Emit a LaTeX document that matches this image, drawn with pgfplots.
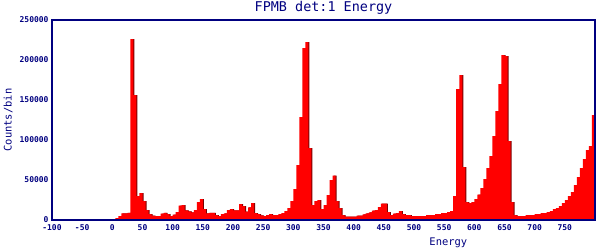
\documentclass[border=0pt]{standalone}
\usepackage{fontspec}
\setmainfont{DejaVu Sans Mono}
\usepackage{pgfplots}
\usepackage{pgfplotstable}
\pgfplotsset{compat=1.18}
\usetikzlibrary{calc}
\definecolor{axblue}{RGB}{0,0,128}
\definecolor{shadow}{RGB}{120,0,0}
\pgfplotstableread{
E v
-100 0
0 1000
5 2500
10 5000
15 8300
20 8300
25 9000
30 226000
35 156000
40 30000
45 33500
50 23500
55 12500
60 7500
65 5400
70 5000
75 5000
80 7900
85 9000
90 7500
95 5000
100 6700
105 10000
110 17900
115 18700
120 12000
125 10800
130 9600
135 12500
140 22500
145 26000
150 13700
155 8300
160 9000
165 9000
170 6250
175 5000
180 7500
185 8300
190 12500
195 13750
200 12000
205 12000
210 20000
215 17500
220 10400
225 15800
230 21250
235 8750
240 7500
245 5800
250 5000
255 6250
260 7500
265 6250
270 6250
275 7500
280 8750
285 11250
290 15000
295 23750
300 38750
305 68750
310 128750
315 215000
320 222500
325 90000
330 18750
335 23750
340 25000
345 13750
350 18750
355 31250
360 50000
365 55400
370 23750
375 15000
380 6250
385 4200
390 4200
395 4200
400 4200
405 5400
410 5400
415 7100
420 8300
425 9600
430 11700
435 12500
440 16250
445 20400
450 20400
455 10000
460 6250
465 7900
470 8750
475 11250
480 7500
485 6250
490 6250
495 5000
500 5000
505 5000
510 5000
515 5000
520 6250
525 6250
530 6250
535 7500
540 7500
545 8750
550 8750
555 10000
560 11250
565 30000
570 163750
575 181250
580 66250
585 22500
590 21250
595 22500
600 26250
605 31700
610 40000
615 51250
620 65000
625 80000
630 105000
635 136250
640 170000
645 206250
650 205000
655 98750
660 22500
665 6250
670 5000
675 5000
680 5000
685 6250
690 6250
695 6250
700 7500
705 7500
710 8750
715 8750
720 10000
725 11250
730 13750
735 15000
740 17500
745 21250
750 25000
755 30000
760 35000
765 43750
770 53750
775 65000
780 76250
785 87500
790 92500
795 131250
800 131250
}\hist
\begin{document}
\begin{tikzpicture}
\begin{axis}[
  scale only axis, width=543bp, height=200bp,
  xmin=-100, xmax=800, ymin=0, ymax=250000,
  axis line style={axblue, line width=1.2bp},
  xtick={-100,-50,...,750}, ytick={0,50000,...,250000},
  major tick length=0pt,
  scaled y ticks=false,
  /pgf/number format/assume math mode=true,
  yticklabel style={/pgf/number format/fixed, /pgf/number format/1000 sep={}},
  ticklabel style={font=\bfseries\fontsize{8}{9}\selectfont, text=axblue},
  xticklabel style={yshift=-1bp},
  xlabel={Energy},
  xlabel style={font=\fontsize{10.5}{12}\selectfont, text=axblue, at={(axis description cs:0.73,-0.115)}, anchor=center},
  ylabel={Counts/bin},
  ylabel style={font=\fontsize{10.5}{12}\selectfont, text=axblue, at={(axis description cs:-0.081,0.5)}, anchor=center},
  axis on top,
]
\addplot[const plot, fill=shadow, draw=none, xshift=1bp] table[x=E,y=v] {\hist} \closedcycle;
\addplot[const plot, fill=red, draw=none] table[x=E,y=v] {\hist} \closedcycle;
\addplot[shadow, line width=1bp] coordinates {(-100,0) (0,0)};
\coordinate (bl) at (rel axis cs:0,0);
\coordinate (tr) at (rel axis cs:1,1);
\coordinate (tt) at (rel axis cs:0.5,1);
\end{axis}
\node[font=\fontsize{13.5}{15}\selectfont, text=axblue, inner sep=0pt, anchor=center] at ($(tt)+(0,12bp)$) {FPMB det:1 Energy};
\pgfresetboundingbox
\path[use as bounding box] ($(bl)+(-52bp,-30bp)$) rectangle ($(tr)+(5bp,20bp)$);
\end{tikzpicture}
\end{document}
